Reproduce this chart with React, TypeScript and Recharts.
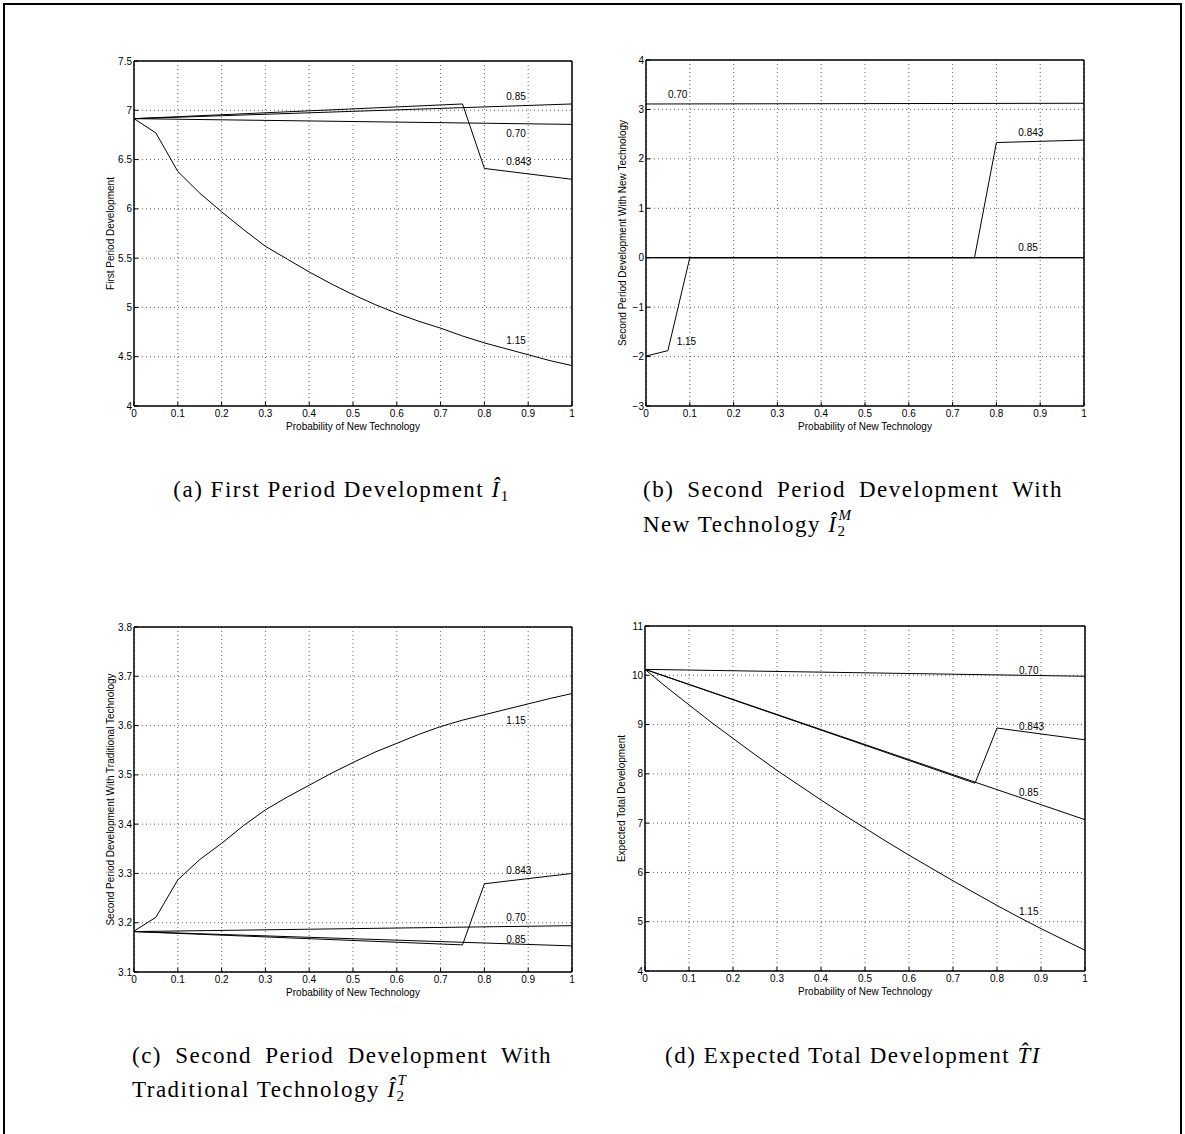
import React from "react";
import { LineChart, Line, XAxis, YAxis, CartesianGrid, ReferenceDot } from "recharts";

// x positions (probability of new technology)
const probTicks = [0, 0.1, 0.2, 0.3, 0.4, 0.5, 0.6, 0.7, 0.8, 0.9, 1];
const curveX = [0, 0.05, 0.1, 0.15, 0.2, 0.25, 0.3, 0.35, 0.4, 0.45, 0.5, 0.55, 0.6, 0.65, 0.7, 0.75, 0.8, 0.85, 0.9, 0.95, 1];
const endX = [0, 1];
const jumpX = [0, 0.75, 0.8, 1];
const earlyX = [0, 0.05, 0.1, 1];

// (a) first period development
const aTicks = [4, 4.5, 5, 5.5, 6, 6.5, 7, 7.5];
const a070 = [6.915, 6.857];
const a085 = [6.915, 7.064];
const a0843 = [6.915, 7.064, 6.41, 6.3];
const a115 = [6.915, 6.77, 6.38, 6.16, 5.97, 5.79, 5.62, 5.49, 5.36, 5.24, 5.13, 5.03, 4.94, 4.86, 4.79, 4.71, 4.64, 4.58, 4.52, 4.46, 4.41];
const aLabels = [
  { text: "0.85", x: 0.85, y: 7.14 },
  { text: "0.70", x: 0.85, y: 6.77 },
  { text: "0.843", x: 0.85, y: 6.48 },
  { text: "1.15", x: 0.85, y: 4.67 },
];

// (b) second period, new technology
const bTicks = [-3, -2, -1, 0, 1, 2, 3, 4];
const b070 = [3.11, 3.125];
const b085 = [0, 0];
const b0843 = [0, 0, 2.33, 2.38];
const b115 = [-1.99, -1.88, 0, 0];
const bLabels = [
  { text: "0.70", x: 0.05, y: 3.3 },
  { text: "0.843", x: 0.85, y: 2.54 },
  { text: "0.85", x: 0.85, y: 0.2 },
  { text: "1.15", x: 0.07, y: -1.7 },
];

// (c) second period, traditional technology
const cTicks = [3.1, 3.2, 3.3, 3.4, 3.5, 3.6, 3.7, 3.8];
const c070 = [3.182, 3.194];
const c085 = [3.182, 3.153];
const c0843 = [3.182, 3.155, 3.279, 3.3];
const c115 = [3.183, 3.211, 3.287, 3.328, 3.361, 3.397, 3.429, 3.455, 3.479, 3.503, 3.525, 3.546, 3.564, 3.582, 3.598, 3.611, 3.622, 3.633, 3.644, 3.655, 3.665];
const cLabels = [
  { text: "1.15", x: 0.85, y: 3.611 },
  { text: "0.843", x: 0.85, y: 3.306 },
  { text: "0.70", x: 0.85, y: 3.211 },
  { text: "0.85", x: 0.85, y: 3.166 },
];

// (d) expected total development
const dTicks = [4, 5, 6, 7, 8, 9, 10, 11];
const d070 = [10.12, 9.98];
const d085 = [10.12, 7.07];
const d0843 = [10.12, 7.81, 8.93, 8.69];
const d115 = [10.12, 9.75, 9.4, 9.05, 8.72, 8.39, 8.07, 7.77, 7.47, 7.18, 6.9, 6.62, 6.35, 6.09, 5.83, 5.58, 5.33, 5.09, 4.86, 4.64, 4.42];
const dLabels = [
  { text: "0.70", x: 0.85, y: 10.09 },
  { text: "0.843", x: 0.85, y: 8.97 },
  { text: "0.85", x: 0.85, y: 7.62 },
  { text: "1.15", x: 0.85, y: 5.2 },
];

const zip = (xs: number[], ys: number[]) => xs.map((x, i) => ({ x, y: ys[i] }));
const fmt = (v: number) => (v < 0 ? `\u2212${-v}` : `${v}`);

const sans = "'Liberation Sans', Arial, Helvetica, sans-serif";
const serif = "'Liberation Serif', 'Times New Roman', serif";

const panels = [
  {
    key: "a", left: 134, top: 61, w: 438, h: 345, ticks: aTicks,
    yLabel: "First Period Development",
    series: [zip(endX, a070), zip(endX, a085), zip(jumpX, a0843), zip(curveX, a115)],
    labels: aLabels,
  },
  {
    key: "b", left: 646, top: 60, w: 438, h: 346, ticks: bTicks,
    yLabel: "Second Period Development With New Technology",
    series: [zip(endX, b070), zip(endX, b085), zip(jumpX, b0843), zip(earlyX, b115)],
    labels: bLabels,
  },
  {
    key: "c", left: 134, top: 627, w: 438, h: 345, ticks: cTicks,
    yLabel: "Second Period Development With Traditional Technology",
    series: [zip(endX, c070), zip(endX, c085), zip(jumpX, c0843), zip(curveX, c115)],
    labels: cLabels,
  },
  {
    key: "d", left: 645, top: 626, w: 440, h: 345, ticks: dTicks,
    yLabel: "Expected Total Development",
    series: [zip(endX, d070), zip(endX, d085), zip(jumpX, d0843), zip(curveX, d115)],
    labels: dLabels,
  },
];

function Panel({ p }: { p: (typeof panels)[number] }) {
  const ML = 60;
  const dom: [number, number] = [p.ticks[0], p.ticks[p.ticks.length - 1]];
  const frame = { stroke: "#000", strokeWidth: 1.5 };
  const tl = { stroke: "#000", strokeWidth: 1 };
  return (
    <div style={{ position: "absolute", left: p.left - ML, top: p.top - 10 }}>
      <LineChart width={ML + p.w + 10} height={p.h + 50} margin={{ top: 9, right: 9, bottom: 10, left: 10 }}>
        <CartesianGrid stroke="#666" strokeDasharray="1 3" />
        <XAxis
          type="number" dataKey="x" domain={[0, 1]} ticks={probTicks} interval={0} height={30}
          tickSize={-4} tickMargin={8} axisLine={frame} tickLine={tl} tickFormatter={fmt}
          tick={{ fontSize: 10, fill: "#000", fontFamily: sans }}
          label={{ value: "Probability of New Technology", position: "insideBottom", offset: 6, fontSize: 10, fill: "#000", fontFamily: sans }}
        />
        <XAxis
          xAxisId="top" orientation="top" type="number" dataKey="x" domain={[0, 1]} ticks={probTicks}
          interval={0} height={1} tickSize={-4} tick={false} axisLine={frame} tickLine={tl}
        />
        <YAxis
          type="number" domain={dom} ticks={p.ticks} interval={0} width={50}
          tickSize={-4} tickMargin={6} axisLine={frame} tickLine={tl} tickFormatter={fmt}
          tick={{ fontSize: 10, fill: "#000", fontFamily: sans }}
          label={{ value: p.yLabel, angle: -90, position: "insideLeft", offset: 26, fontSize: 10, fill: "#000", fontFamily: sans, style: { textAnchor: "middle" } }}
        />
        <YAxis
          yAxisId="right" orientation="right" type="number" domain={dom} ticks={p.ticks}
          interval={0} width={1} tickSize={-4} tick={false} axisLine={frame} tickLine={tl}
        />
        {p.series.map((s, i) => (
          <Line key={i} data={s} dataKey="y" type="linear" stroke="#000" strokeWidth={1} dot={false} isAnimationActive={false} />
        ))}
        {p.labels.map((l) => (
          <ReferenceDot
            key={l.text} x={l.x} y={l.y} r={0} fill="none" stroke="none" ifOverflow="visible"
            label={{ value: l.text, position: "right", offset: 0, fontSize: 10, fill: "#000", fontFamily: sans }}
          />
        ))}
      </LineChart>
    </div>
  );
}

// hatted I with a subscript and an optional superscript stacked above it
function IHat({ sub, sup }: { sub: string; sup?: string }) {
  return (
    <span style={{ whiteSpace: "nowrap" }}>
      <i>Î</i>
      <span style={{ display: "inline-block", position: "relative", width: sup ? 18 : 10, height: 1 }}>
        {sup && (
          <span style={{ position: "absolute", left: 1, bottom: 9, fontSize: 15, lineHeight: "15px", fontStyle: "italic", letterSpacing: 0 }}>{sup}</span>
        )}
        <span style={{ position: "absolute", left: 0, top: -7, fontSize: 15, lineHeight: "15px", letterSpacing: 0 }}>{sub}</span>
      </span>
    </span>
  );
}

const cap: React.CSSProperties = {
  position: "absolute",
  fontFamily: serif,
  fontSize: 23,
  lineHeight: "35px",
  letterSpacing: 1.5,
  color: "#000",
  width: 420,
};

export default function App() {
  return (
    <div style={{ position: "absolute", left: 0, top: 0, width: 1185, height: 1134, background: "#fff", overflow: "hidden" }}>
      <div style={{ position: "absolute", left: 3, top: 3, width: 1179, height: 1150, border: "2px solid #000", borderBottom: "none", boxSizing: "border-box" }} />
      {panels.map((p) => (
        <Panel key={p.key} p={p} />
      ))}
      <div style={{ ...cap, left: 132, top: 472, textAlign: "center" }}>
        (a) First Period Development <IHat sub="1" />
      </div>
      <div style={{ ...cap, left: 643, top: 472, textAlign: "justify", textAlignLast: "justify" }}>
        (b) Second Period Development With
      </div>
      <div style={{ ...cap, left: 643, top: 507 }}>
        New Technology <IHat sub="2" sup="M" />
      </div>
      <div style={{ ...cap, left: 132, top: 1038, textAlign: "justify", textAlignLast: "justify" }}>
        (c) Second Period Development With
      </div>
      <div style={{ ...cap, left: 132, top: 1072 }}>
        Traditional Technology <IHat sub="2" sup="T" />
      </div>
      <div style={{ ...cap, left: 643, top: 1038, textAlign: "center" }}>
        (d) Expected Total Development <i>T̂I</i>
      </div>
    </div>
  );
}
